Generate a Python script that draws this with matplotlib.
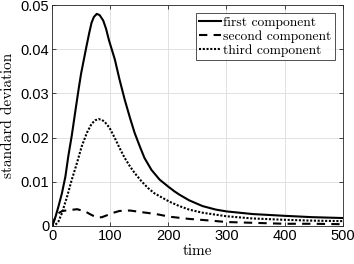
import matplotlib
matplotlib.use("Agg")
import matplotlib.pyplot as plt

# values
t1 = [0, 6, 11, 17, 23, 28, 34, 41, 46, 50, 59, 64, 68, 72, 77, 82, 88, 93, 98, 108, 116, 125,
      134, 142, 151, 159, 171, 185, 200, 211, 219, 236, 259, 282, 300, 345, 400, 447, 500]
first = [0, 0.0021, 0.0044, 0.0074, 0.0112, 0.0158, 0.0205, 0.0268, 0.0312, 0.0345, 0.0405,
         0.0437, 0.0460, 0.0473, 0.0480, 0.0477, 0.0465, 0.0446, 0.0420, 0.0377, 0.0332,
         0.0286, 0.0245, 0.0211, 0.0180, 0.0154, 0.0127, 0.0105, 0.0089, 0.0078, 0.0071,
         0.0058, 0.0045, 0.0037, 0.0033, 0.0027, 0.0023, 0.0020, 0.0018]

t2 = [0, 6, 11, 18, 31, 43, 57, 65, 71, 79, 86, 94, 103, 116, 134, 156, 179, 202, 236,
      265, 300, 350, 400, 450, 500]
second = [0, 0.0021, 0.0029, 0.0034, 0.0036, 0.0038, 0.0033, 0.0027, 0.0023, 0.0019, 0.0020,
          0.0024, 0.0029, 0.0034, 0.0035, 0.0031, 0.0027, 0.0021, 0.0016, 0.0013, 0.0009,
          0.0007, 0.0005, 0.0005, 0.0004]

t3 = [0, 6, 11, 17, 26, 34, 43, 51, 60, 68, 74, 80, 86, 91, 99, 108, 116, 125, 134, 142,
      154, 165, 176, 191, 202, 219, 236, 259, 300, 345, 400, 450, 500]
third = [0, 0.0003, 0.0010, 0.0029, 0.0067, 0.0105, 0.0143, 0.0180, 0.0211, 0.0231, 0.0239,
         0.0242, 0.0240, 0.0235, 0.0222, 0.0199, 0.0177, 0.0154, 0.0135, 0.0120, 0.0101,
         0.0086, 0.0074, 0.0063, 0.0055, 0.0045, 0.0037, 0.0030, 0.0022, 0.0017, 0.0014,
         0.0012, 0.0011]

xticks = [0, 100, 200, 300, 400, 500]
yticks = [0, 0.01, 0.02, 0.03, 0.04, 0.05]

fig = plt.figure(figsize=(3.54, 2.64), dpi=100)
ax = fig.add_axes([0.147, 0.144, 0.821, 0.837])

ax.plot(t1, first, color="black", lw=1.5, ls="-", label="first component")
ax.plot(t2, second, color="black", lw=1.5, ls=(0, (4, 3)), label="second component")
ax.plot(t3, third, color="black", lw=1.5, ls=(0, (1, 0.8)), label="third component")

ax.set_xlim(0, 500)
ax.set_ylim(0, 0.05)
ax.set_xticks(xticks)
ax.set_yticks(yticks)
ax.set_xticklabels([str(v) for v in xticks], family="Liberation Sans", fontsize=10.5)
ax.set_yticklabels(["0", "0.01", "0.02", "0.03", "0.04", "0.05"], family="Liberation Sans", fontsize=10.5)
ax.tick_params(direction="in", top=True, right=True, length=3, width=0.6, color="#262626", pad=2)
ax.grid(color="#dcdcdc", lw=0.6)
ax.set_axisbelow(True)
for s in ax.spines.values():
    s.set_linewidth(0.6)
    s.set_color("#262626")

ax.set_xlabel("time", family="cmr10", fontsize=11, labelpad=1)
ax.set_ylabel("standard deviation", family="cmr10", fontsize=11, labelpad=4)

leg = ax.legend(loc="upper right", prop={"family": "cmr10", "size": 9.7}, frameon=True,
                fancybox=False, edgecolor="black", handlelength=1.6, handletextpad=0.15,
                borderpad=0.25, labelspacing=0.1, borderaxespad=0.6)
leg.get_frame().set_linewidth(0.6)

fig.savefig("out.png", dpi=100)
